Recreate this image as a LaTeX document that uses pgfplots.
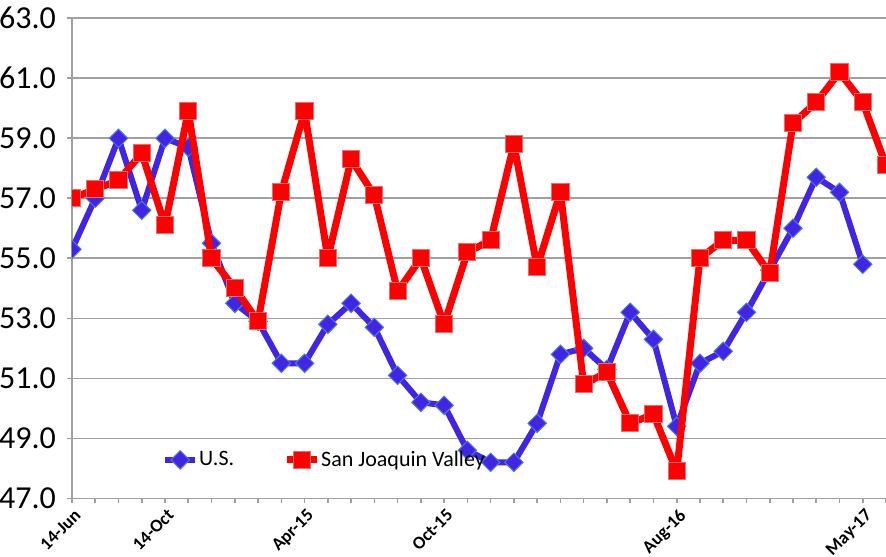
\documentclass[border=0pt]{standalone}
\usepackage{pgfplots}
\pgfplotsset{compat=1.18}
\usepackage{fontspec}
\setmainfont{Carlito}
\definecolor{usblue}{RGB}{64,38,226}
\definecolor{usedge}{RGB}{80,120,220}
\definecolor{sjred}{RGB}{255,0,0}
\definecolor{sjedge}{RGB}{230,110,110}
\definecolor{gridgray}{RGB}{160,160,160}
\begin{document}
\begin{tikzpicture}
\begin{axis}[
  name=ax,
  scale only axis,
  width=407pt, height=240pt,
  xmin=0, xmax=35, ymin=47, ymax=63,
  ytick={47,49,...,63},
  xtick={0,4,10,16,26,34},
  xticklabels={14-Jun,14-Oct,Apr-15,Oct-15,Aug-16,May-17},
  minor xtick={0,...,35},
  axis x line*=bottom, axis y line*=left,
  axis line style={gridgray, line width=0.8pt, -},
  tick style={gridgray, line width=0.8pt},
  tick align=outside, major tick length=2.5pt, minor tick length=2.5pt,
  ymajorgrids, grid style={gridgray, line width=0.8pt},
  /pgf/number format/assume math mode=true,
  yticklabel={\pgfmathprintnumber[fixed,fixed zerofill,precision=1]{\tick}},
  yticklabel style={font=\fontsize{16}{16}\selectfont, xshift=-2pt},
  xticklabel style={font=\fontsize{9}{9}\selectfont\bfseries, rotate=45, anchor=north east, inner sep=1pt, yshift=-1pt},
  legend style={draw=none, fill=none, at={(rel axis cs:0.103,0.08)}, anchor=west,
    font=\fontsize{11}{11}\selectfont, nodes={inner xsep=0.5pt},
    /tikz/every even column/.append style={column sep=24pt}},
  legend columns=2,
  legend image code/.code={\draw[mark repeat=2,mark phase=2] plot coordinates {(0pt,0pt) (7.5pt,0pt) (15pt,0pt)};},
  clip marker paths=true,
]
\addplot[usblue, line width=3pt, line join=round, mark=square*, mark size=3.25pt,
  mark options={rotate=45, fill=usblue, draw=usedge, line width=0.5pt, line join=miter}]
coordinates {
(0,55.3)(1,57.0)(2,59.0)(3,56.6)(4,59.0)(5,58.7)(6,55.5)(7,53.5)(8,52.9)(9,51.5)
(10,51.5)(11,52.8)(12,53.5)(13,52.7)(14,51.1)(15,50.2)(16,50.1)(17,48.6)(18,48.2)(19,48.2)
(20,49.5)(21,51.8)(22,52.0)(23,51.3)(24,53.2)(25,52.3)(26,49.4)(27,51.5)(28,51.9)(29,53.2)
(30,54.6)(31,56.0)(32,57.7)(33,57.2)(34,54.8)
};
\addlegendentry{U.S.}
\addplot[sjred, line width=3.5pt, line join=round, mark=square*, mark size=4.3pt,
  mark options={fill=sjred, draw=sjedge, line width=0.5pt, line join=miter}]
coordinates {
(0,57.0)(1,57.3)(2,57.6)(3,58.5)(4,56.1)(5,59.9)(6,55.0)(7,54.0)(8,52.9)(9,57.2)
(10,59.9)(11,55.0)(12,58.3)(13,57.1)(14,53.9)(15,55.0)(16,52.8)(17,55.2)(18,55.6)(19,58.8)
(20,54.7)(21,57.2)(22,50.8)(23,51.2)(24,49.5)(25,49.8)(26,47.9)(27,55.0)(28,55.6)(29,55.6)
(30,54.5)(31,59.5)(32,60.2)(33,61.2)(34,60.2)(35,58.1)
};
\addlegendentry{San Joaquin Valley}
\end{axis}
\pgfresetboundingbox
\path ([xshift=-36pt,yshift=-29pt]ax.south west) rectangle ([yshift=9.15pt]ax.north east);
\end{tikzpicture}
\end{document}
